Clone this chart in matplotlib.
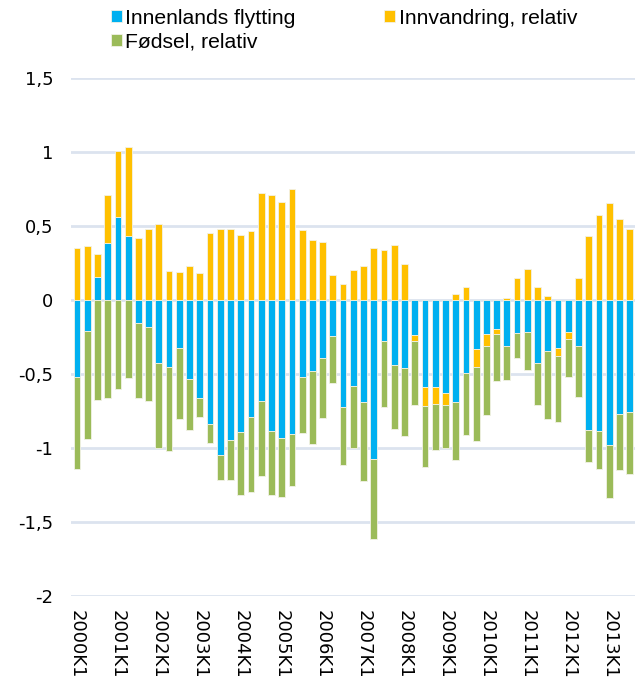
import numpy as np
import matplotlib
matplotlib.use("Agg")
import matplotlib.pyplot as plt

plt.rcParams['font.family'] = ['Liberation Sans', 'DejaVu Sans']

quarters = [f"{y}K{q}" for y in range(2000, 2014) for q in range(1, 5)][:55]

innenlands = [-0.52, -0.21, 0.155, 0.385, 0.56, 0.43, -0.155, -0.185, -0.43, -0.455,
              -0.325, -0.535, -0.66, -0.84, -1.05, -0.95, -0.89, -0.79, -0.685, -0.885,
              -0.93, -0.905, -0.52, -0.48, -0.395, -0.245, -0.725, -0.585, -0.69, -1.075,
              -0.28, -0.44, -0.46, -0.24, -0.59, -0.59, -0.63, -0.69, -0.495, -0.33,
              -0.23, -0.20, -0.31, -0.225, -0.22, -0.43, -0.345, -0.325, -0.22, -0.315,
              -0.88, -0.885, -0.98, -0.77, -0.76]
innvandring = [0.35, 0.36, 0.155, 0.32, 0.445, 0.60, 0.415, 0.475, 0.51, 0.195,
               0.19, 0.23, 0.18, 0.45, 0.48, 0.475, 0.44, 0.465, 0.72, 0.71,
               0.66, 0.745, 0.47, 0.405, 0.39, 0.165, 0.105, 0.20, 0.225, 0.35,
               0.335, 0.37, 0.24, -0.04, -0.125, -0.115, -0.08, 0.04, 0.085, -0.125,
               -0.085, -0.03, 0.01, 0.15, 0.205, 0.085, 0.025, -0.055, -0.045, 0.15,
               0.43, 0.57, 0.65, 0.545, 0.475]
fodsel = [-0.62, -0.73, -0.68, -0.66, -0.60, -0.53, -0.51, -0.50, -0.57, -0.565,
          -0.48, -0.345, -0.13, -0.13, -0.17, -0.27, -0.43, -0.51, -0.505, -0.435,
          -0.40, -0.355, -0.38, -0.495, -0.405, -0.315, -0.39, -0.415, -0.535, -0.54,
          -0.445, -0.435, -0.46, -0.43, -0.415, -0.31, -0.29, -0.395, -0.42, -0.50,
          -0.46, -0.32, -0.23, -0.17, -0.255, -0.28, -0.46, -0.445, -0.255, -0.34,
          -0.215, -0.26, -0.36, -0.38, -0.415]

series = [("Innenlands flytting", innenlands, "#00B0F0"),
          ("Innvandring, relativ", innvandring, "#FFC000"),
          ("Fødsel, relativ", fodsel, "#9BBB59")]

fig = plt.figure(figsize=(6.43, 6.80), dpi=100)
ax = fig.add_axes([0.111, 0.1235, 0.877, 0.7625])

x = np.arange(len(quarters))
pos_base = np.zeros(len(x))
neg_base = np.zeros(len(x))
handles = []
for name, vals, col in series:
    v = np.array(vals)
    bottom = np.where(v >= 0, pos_base, neg_base)
    b = ax.bar(x, v, bottom=bottom, width=0.66, color=col, edgecolor="#F2F2E6",
               linewidth=0.6, label=name, zorder=3)
    handles.append(b)
    pos_base = pos_base + np.clip(v, 0, None)
    neg_base = neg_base + np.clip(v, None, 0)

tickfont = dict(family=['DejaVu Sans'], size=13)
ax.set_ylim(-2, 1.5)
ax.set_xlim(-0.55, 54.55)
yt = [-2, -1.5, -1, -0.5, 0, 0.5, 1, 1.5]
ax.set_yticks(yt)
ax.set_yticklabels([("%g" % t).replace(".", ",") for t in yt], fontdict=tickfont)
ax.yaxis.grid(True, color="#DCE3EF", linewidth=2, zorder=0)
ax.set_axisbelow(True)
ax.set_xticks(x[::4])
ax.set_xticklabels(quarters[::4], rotation=-90, va="top", ha="center", fontdict=tickfont)
ax.tick_params(axis="both", length=0)
ax.tick_params(axis="x", pad=10)
ax.tick_params(axis="y", pad=13)
for s in ax.spines.values():
    s.set_visible(False)

order = [0, 2, 1]
fig.legend(handles=[handles[i] for i in order], labels=[series[i][0] for i in order],
           loc="upper left", bbox_to_anchor=(0.1726, 0.987), ncol=2, frameon=False,
           prop=dict(family=['Liberation Sans'], size=15.2),
           handlelength=0.5, handleheight=0.5, handletextpad=0.18,
           columnspacing=4.2, labelspacing=0.2, borderaxespad=0, borderpad=0)

fig.savefig("out.png", dpi=100, facecolor="white")
